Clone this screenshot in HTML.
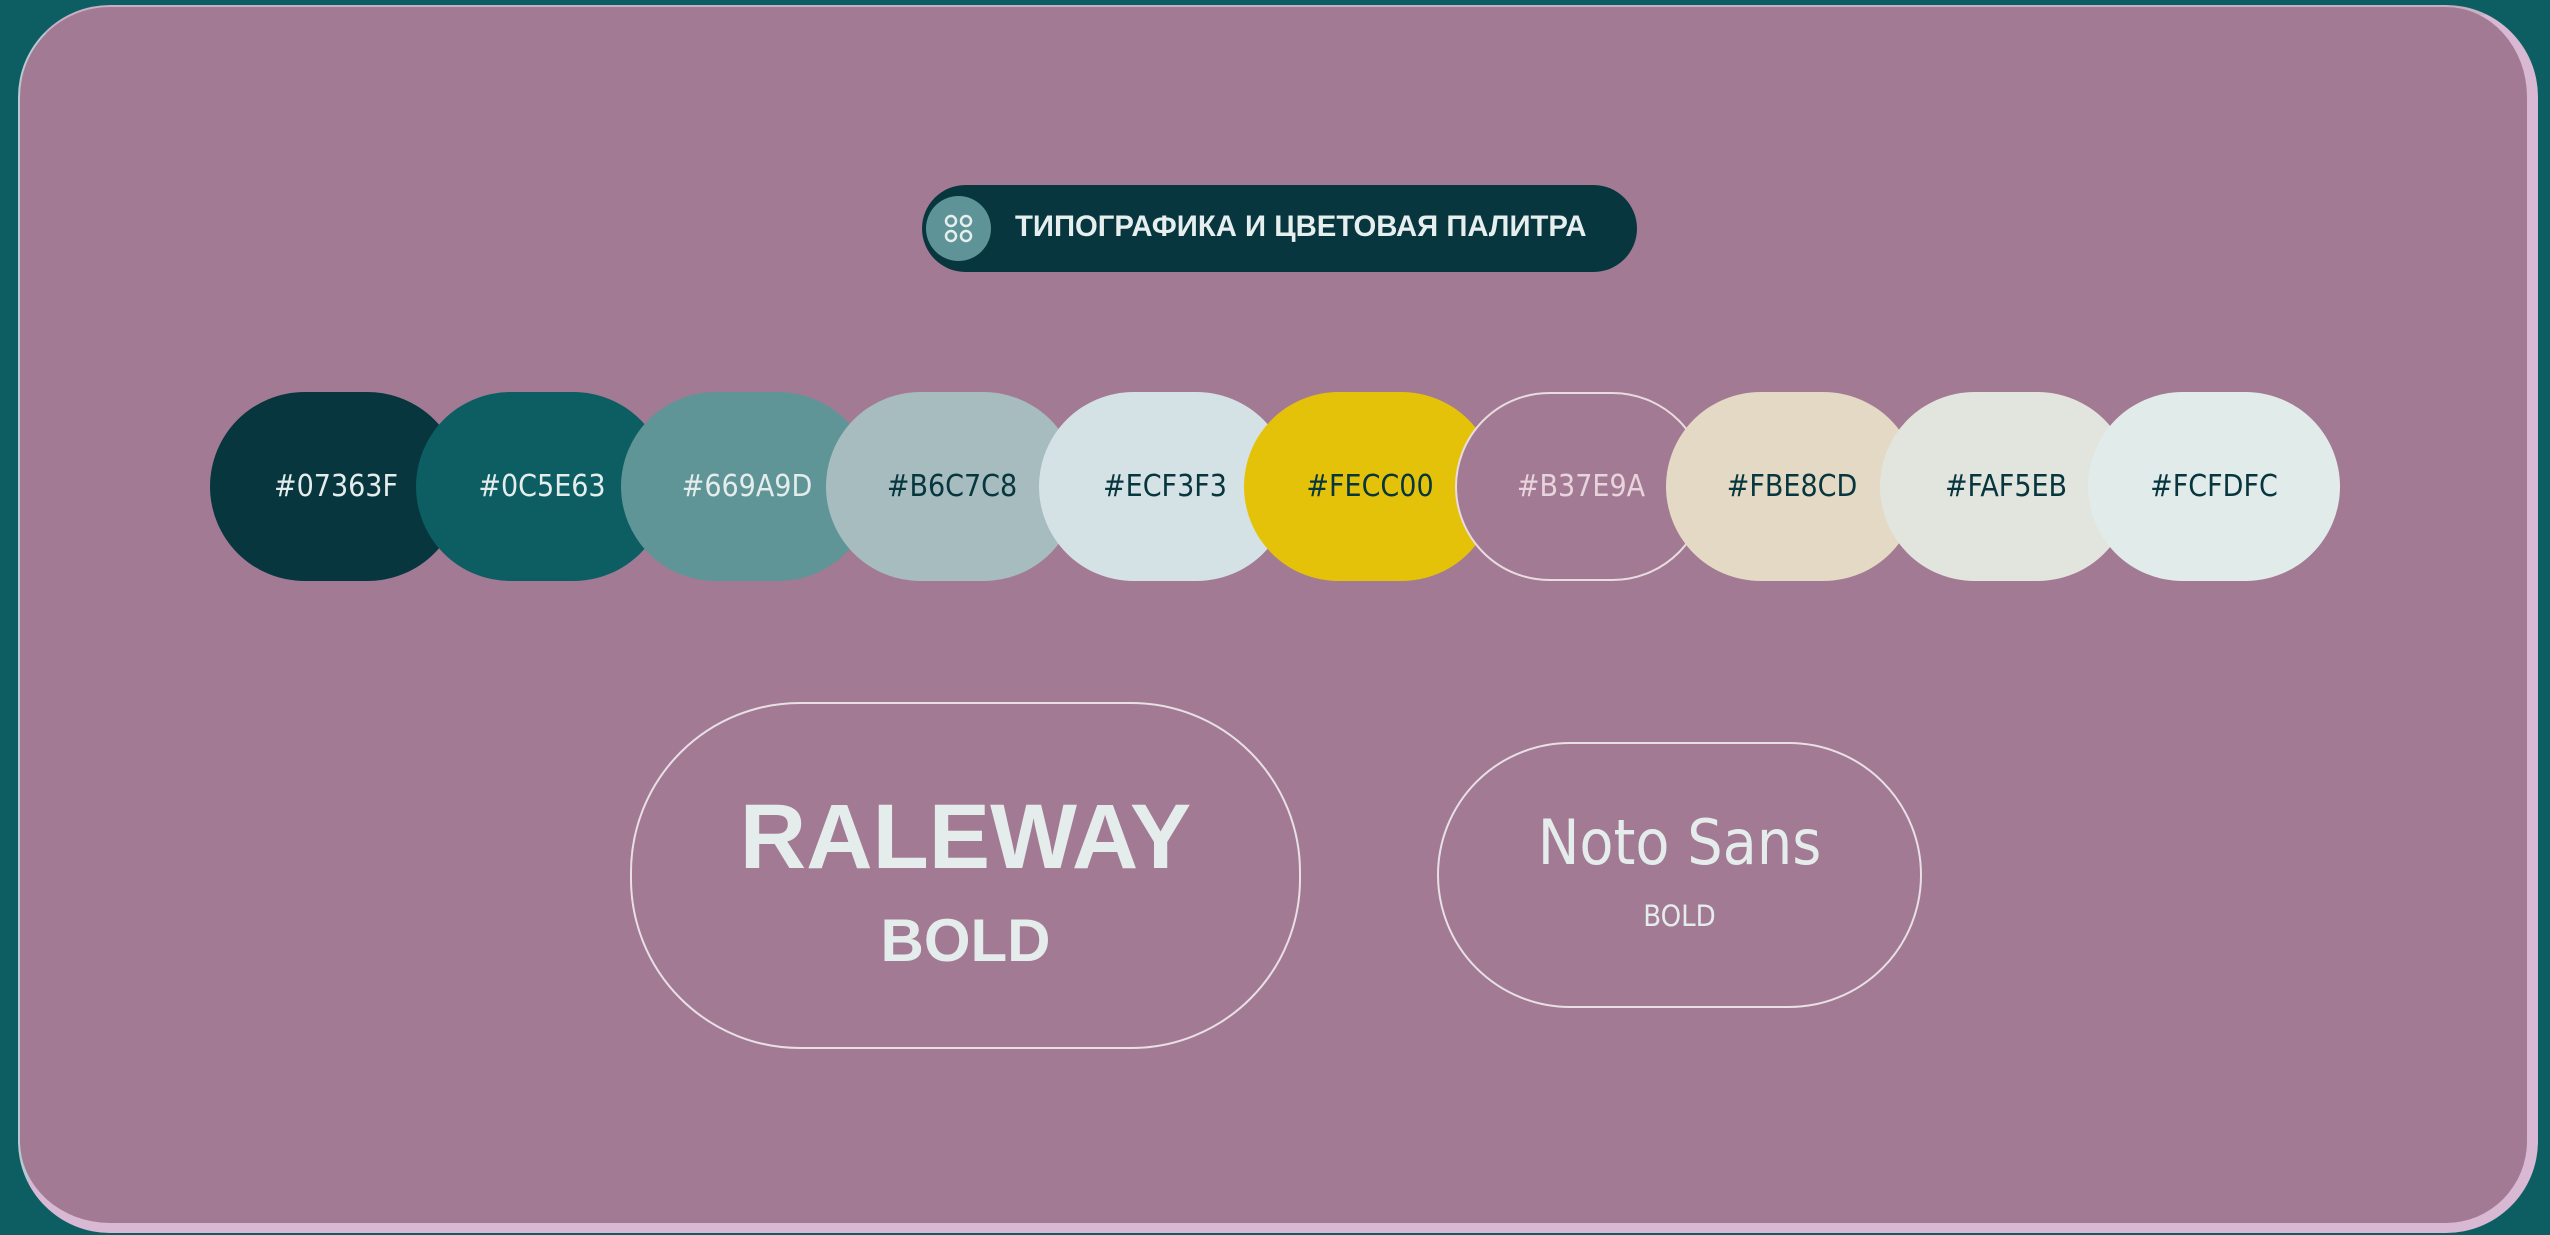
<!DOCTYPE html>
<html><head><meta charset="utf-8"><style>
*{margin:0;padding:0;box-sizing:border-box}
body{width:2550px;height:1235px;background:#0C5E63;position:relative;overflow:hidden;font-family:"Liberation Sans","DejaVu Sans",sans-serif}
.card{position:absolute;left:18px;top:5px;width:2520px;height:1228px;background:#A37A93;border-radius:92px;border-top:2px solid #C7AFC4;border-left:2px solid #B9C9D0;border-right:11px solid #D9B8D3;border-bottom:10px solid #D9B8D3}
.hdr{position:absolute;left:922px;top:185px;width:715px;height:87px;background:#07363F;border-radius:44px}
.ic{position:absolute;left:926px;top:196px;width:65px;height:65px;border-radius:50%;background:#5E9497}
.ht{position:absolute;left:1015px;top:210px;font-size:29.3px;font-weight:bold;color:#E6EEEE;white-space:nowrap;font-family:"Liberation Sans","DejaVu Sans",sans-serif}
.sw{position:absolute;top:392px;width:252px;height:189px;border-radius:95px;display:flex;align-items:center;justify-content:center;font-size:30px;font-family:"DejaVu Sans Condensed","Liberation Sans",sans-serif}
.box{position:absolute;border:2px solid #E8E0E6;text-align:center;color:#E4ECEC}
</style></head><body>
<div class="card"></div>
<div class="hdr"></div>
<div class="ic"><svg width="65" height="65" viewBox="0 0 65 65"><g fill="none" stroke="#E6EEEE" stroke-width="2.5"><circle cx="25" cy="25" r="5"/><circle cx="40" cy="25" r="5"/><circle cx="25" cy="40" r="5"/><circle cx="40" cy="40" r="5"/></g></svg></div>
<div class="ht">ТИПОГРАФИКА И ЦВЕТОВАЯ ПАЛИТРА</div>

<div class="sw" style="left:210px;background:#07363F;color:#E4ECEC">#07363F</div>
<div class="sw" style="left:416px;background:#0C5E63;color:#E4ECEC">#0C5E63</div>
<div class="sw" style="left:621px;background:#5F9597;color:#E4ECEC">#669A9D</div>
<div class="sw" style="left:826px;background:#A6BCBF;color:#07363F">#B6C7C8</div>
<div class="sw" style="left:1039px;background:#D5E2E5;color:#07363F">#ECF3F3</div>
<div class="sw" style="left:1244px;background:#E5C20A;color:#07363F">#FECC00</div>
<div class="sw" style="left:1455px;background:#A37A93;border:2px solid #E8DCE0;color:#E8D4DC">#B37E9A</div>
<div class="sw" style="left:1666px;background:#E3D9C4;color:#07363F">#FBE8CD</div>
<div class="sw" style="left:1880px;background:#E2E5DD;color:#07363F">#FAF5EB</div>
<div class="sw" style="left:2088px;background:#E1EBEA;color:#07363F">#FCFDFC</div>

<div class="box" style="left:630px;top:702px;width:671px;height:347px;border-radius:170px">
  <div style="position:absolute;left:0;right:0;top:78px;font-size:92px;font-weight:bold;line-height:110px">RALEWAY</div>
  <div style="position:absolute;left:0;right:0;top:202px;font-size:60px;font-weight:bold;line-height:70px">BOLD</div>
</div>
<div class="box" style="left:1437px;top:742px;width:485px;height:266px;border-radius:133px">
  <div style="position:absolute;left:0;right:0;top:64px;font-size:62px;line-height:70px;font-family:'DejaVu Sans Condensed','Liberation Sans',sans-serif">Noto Sans</div>
  <div style="position:absolute;left:0;right:0;top:154px;font-size:29px;line-height:36px;font-family:'DejaVu Sans Condensed','Liberation Sans',sans-serif">BOLD</div>
</div>
</body></html>
